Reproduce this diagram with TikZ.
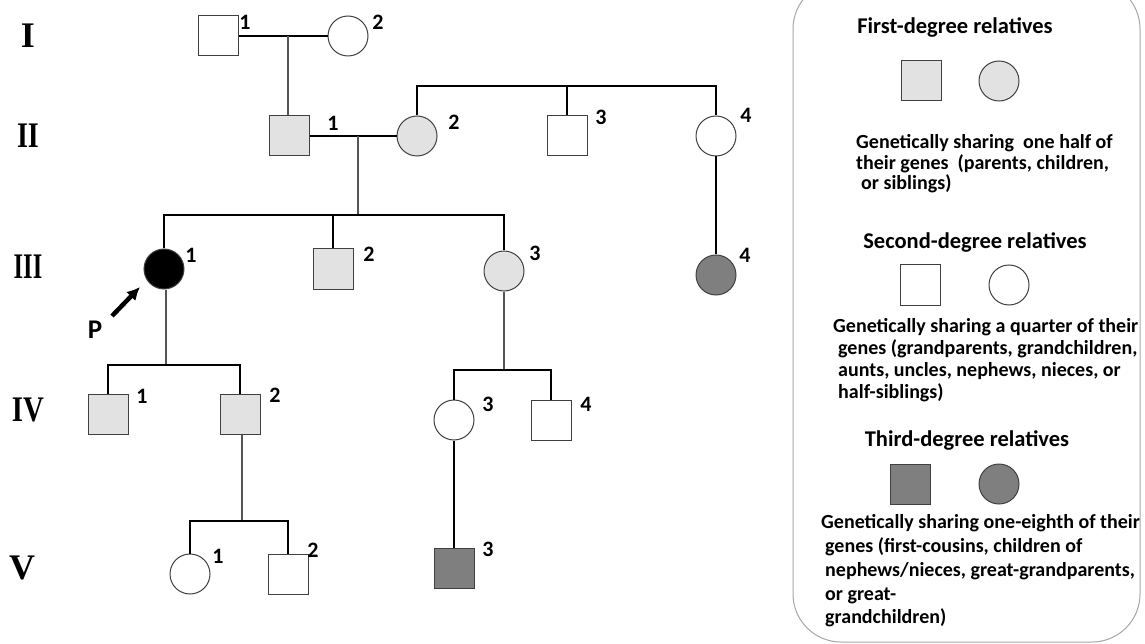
\documentclass[tikz,border=0pt]{standalone}
\usepackage{fontspec}
\setmainfont{Carlito}
\newfontfamily\genfont{Liberation Serif}
\usetikzlibrary{arrows.meta}
\definecolor{firstgray}{HTML}{E2E2E2}
\definecolor{thirdgray}{HTML}{7F7F7F}
\definecolor{shapeline}{HTML}{404040}
\definecolor{descgray}{HTML}{555555}
\definecolor{legendgray}{HTML}{A6A6A6}
\begin{document}
\begin{tikzpicture}[x=1pt, y=-1pt,
  male/.style={draw=shapeline, line width=1pt, rectangle, minimum size=40pt, inner sep=0pt, fill=white},
  female/.style={draw=shapeline, line width=1pt, circle, minimum size=40pt, inner sep=0pt, fill=white},
  firstdeg/.style={fill=firstgray},
  thirddeg/.style={fill=thirdgray},
  num/.style={font=\bfseries\fontsize{22}{22}\selectfont, inner sep=0pt},
  gen/.style={font=\genfont\bfseries\fontsize{36}{36}\selectfont, inner sep=0pt},
  kin/.style={line width=2pt},
  desc/.style={line width=1.2pt, draw=descgray},
  legtitle/.style={font=\bfseries\fontsize{22.5}{22.5}\selectfont, inner sep=0pt},
  legtext/.style={font=\bfseries\fontsize{20}{21}\selectfont, align=left, inner sep=0pt, anchor=west}]
\clip (0,0) rectangle (1145,644);

% generation numerals
\node[gen] (gI) at (28,36) {I};
\node[gen] (gII) at (28,136) {\scalebox{0.78}[1]{II}};
\node[gen] (gIII) at (28,267) {\scalebox{0.68}[1]{III}};
\node[gen] (gIV) at (28,410) {\scalebox{0.8}[1]{IV}};
\node[gen] (gV) at (22,568) {V};

% generation I
\node[male] (I1) at (218,36) {};
\node[female] (I2) at (348,36) {};
\node[num] (nI1) at (245,22) {1};
\node[num] (nI2) at (378,22) {2};
\draw[kin] (I1) -- (I2);
\coordinate (m1) at (288,36);

% generation II
\node[male, firstdeg] (II1) at (289,136) {};
\node[female, firstdeg] (II2) at (417,136) {};
\node[male] (II3) at (567,136) {};
\node[female] (II4) at (716,136) {};
\node[num] (nII1) at (333,123) {1};
\node[num] (nII2) at (454,122) {2};
\node[num] (nII3) at (601,117) {3};
\node[num] (nII4) at (746,115) {4};
\draw[desc] (m1) -- (m1 |- II1.north);
\draw[kin] (II1) -- (II2);
\coordinate (s2) at (567,86);
\draw[kin] (II2.north) |- (s2) -| (II4.north);
\draw[kin] (s2) -- (II3.north);
\coordinate (m2) at (358,136);

% generation III
\node[female, fill=black] (III1) at (164,269) {};
\node[male, firstdeg] (III2) at (333,269) {};
\node[female, firstdeg] (III3) at (504,271) {};
\node[female, thirddeg] (III4) at (716,275) {};
\node[num] (nIII1) at (191,255) {1};
\node[num] (nIII2) at (369,254) {2};
\node[num] (nIII3) at (535,253) {3};
\node[num] (nIII4) at (745,255) {4};
\coordinate (s3) at (358,215);
\draw[desc] (m2) -- (s3);
\draw[kin] (III1.north) |- (s3) -| (III3.north);
\draw[kin] (s3 -| III2) -- (III2.north);
\draw[kin] (II4.south) -- (III4.north);

% proband
\node[font=\bfseries\fontsize{27}{27}\selectfont, inner sep=0pt] (P) at (95,330) {P};
\coordinate (ptail) at (112,316);
\coordinate (ptip) at (140,287);
\draw[-{Latex[length=13pt,width=13pt]}, line width=4.5pt] (ptail) -- (ptip);

% generation IV
\node[male, firstdeg] (IV1) at (108,414) {};
\node[male, firstdeg] (IV2) at (240,414) {};
\node[female] (IV3) at (454,420) {};
\node[male] (IV4) at (551,420) {};
\node[num] (nIV1) at (142,396) {1};
\node[num] (nIV2) at (275,395) {2};
\node[num] (nIV3) at (488,404) {3};
\node[num] (nIV4) at (586,404) {4};
\coordinate (s4) at (166,365);
\draw[desc] (s4 |- III1.south) -- (s4);
\draw[kin] (IV1.north) |- (s4) -| (IV2.north);
\coordinate (s5) at (504,370);
\draw[desc] (III3.south) -- (s5);
\draw[kin] (IV3.north) |- (s5) -| (IV4.north);

% generation V
\node[female] (V1) at (190,574) {};
\node[male] (V2) at (288,574) {};
\node[male, thirddeg] (V3) at (454,568) {};
\node[num] (nV1) at (218,556) {1};
\node[num] (nV2) at (313,550) {2};
\node[num] (nV3) at (488,549) {3};
\coordinate (s6) at (242,521);
\draw[desc] (s6 |- IV2.south) -- (s6);
\draw[kin] (V1.north) |- (s6) -| (V2.north);
\draw[kin] (IV3.south) -- (V3.north);

% legend
\draw[legendgray, line width=1pt, rounded corners=48pt] (793,-19) rectangle (1140,642);
\node[legtitle] (lt1) at (955,27) {First-degree relatives};
\node[male, firstdeg] (lm1) at (921,81) {};
\node[female, firstdeg] (lf1) at (999,81) {};
\node[legtext, font=\bfseries\fontsize{20}{20.5}\selectfont] (lx1) at (856,164) {Genetically sharing\ \ one half of\\their genes\ \ (parents, children,\\\hspace{5pt}or siblings)};
\node[legtitle] (lt2) at (975,242) {Second-degree relatives};
\node[male] (lm2) at (920,285) {};
\node[female] (lf2) at (1009,285) {};
\node[legtext, font=\bfseries\fontsize{20}{22}\selectfont] (lx2) at (833,360) {Genetically sharing a quarter of their\\\hspace{5pt}genes (grandparents, grandchildren,\\\hspace{5pt}aunts, uncles, nephews, nieces, or\\\hspace{5pt}half-siblings)};
\node[legtitle] (lt3) at (967,440) {Third-degree relatives};
\node[male, thirddeg] (lm3) at (910,484) {};
\node[female, thirddeg] (lf3) at (999,484) {};
\node[legtext, font=\bfseries\fontsize{20}{23.75}\selectfont] (lx3) at (821,571) {Genetically sharing one-eighth of their\\\hspace{4pt}genes (first-cousins, children of\\\hspace{4pt}nephews/nieces, great-grandparents,\\\hspace{4pt}or great-\\\hspace{4pt}grandchildren)};
\end{tikzpicture}
\end{document}
